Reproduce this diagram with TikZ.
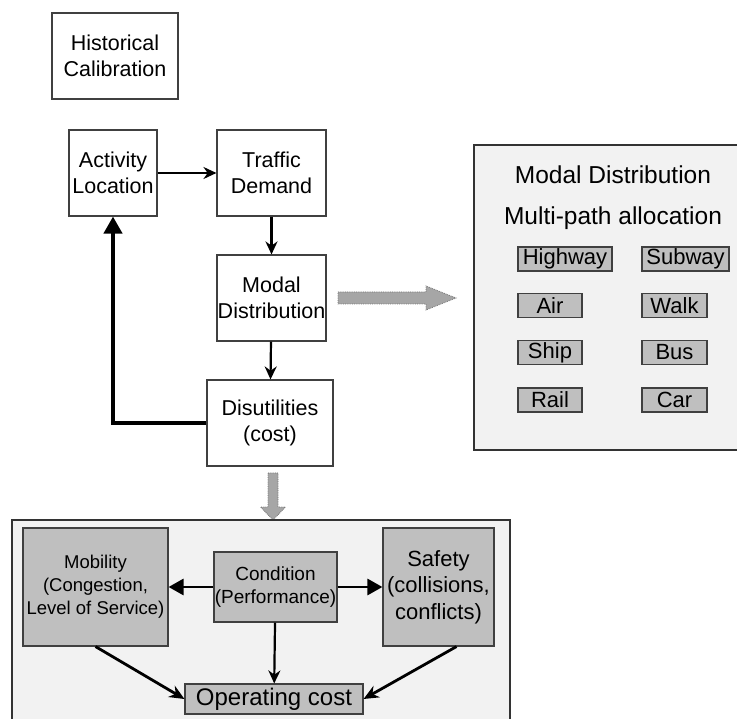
\documentclass[tikz,border=0pt]{standalone}
\usepackage{fontspec}
\setmainfont{Liberation Sans}
\usetikzlibrary{
  arrows.meta,
  calc,
  positioning,
}

\begin{document}
\begin{tikzpicture}[x=1pt,y=-1pt,
  font=\fontsize{21.5}{25.5}\selectfont,
  box/.style={draw=black!75,line width=1.1pt,fill=white,align=center,inner sep=0pt},
  gbox/.style={box,fill=black!25},
  mode/.style={gbox,minimum height=24,font=\fontsize{22}{24}\selectfont},
  panel/.style={fill=black!5},
  frame/.style={draw=black!80,line width=1.2pt},
  flow/.style={-{Stealth[length=13pt,width=12pt]},line width=2.2pt},
  fb/.style={-{Triangle[length=17pt,width=18pt]},line width=4pt},
  side/.style={-{Triangle[length=15pt,width=16pt]},line width=2.8pt},
  imp/.style={-{Stealth[length=15pt,width=13pt]},line width=2.8pt},
  fat/.style={draw=black!55,densely dotted,fill=black!35,line width=0.8pt}]
  \useasboundingbox (0,0) rectangle (737,719);
  %% model chain
  \node[box,minimum width=126,minimum height=86](hist) at (115,56) {Historical\\Calibration};
  \node[box,minimum width=88,minimum height=86](act) at (113,173) {Activity\\Location};
  \node[box,minimum width=109,minimum height=86](dem) at (271.5,173) {Traffic\\Demand};
  \node[box,minimum width=109,minimum height=86](modal) at (271.5,298) {Modal\\Distribution};
  \node[box,minimum width=126,minimum height=86](dis) at (270,423) {Disutilities\\(cost)};
  \draw[flow] (act) -- (dem);
  \draw[flow] (dem) -- (modal);
  \draw[flow] (modal) -- (dis);
  \draw[fb] (dis.west) -| (act.south);
  %% modal split panel
  \fill[panel] (474,145) rectangle (740,450);
  \draw[frame] (740,145) -- (474,145) -- (474,450) -- (740,450);
  \node(mdtitle) at (613,175) {\fontsize{24.5}{28}\selectfont Modal Distribution};
  \node(mptitle) at (613,218) {\fontsize{24.5}{28}\selectfont Multi-path allocation};
  \node[mode,minimum width=94](hwy) at (565,259) {Highway};
  \node[mode,minimum width=87](sub) at (685.5,259) {Subway};
  \node[mode,minimum width=64](air) at (550,305.5) {Air};
  \node[mode,minimum width=65](walk) at (674.5,305.5) {Walk};
  \node[mode,minimum width=64](ship) at (550,352.5) {Ship};
  \node[mode,minimum width=65](bus) at (674.5,352.5) {Bus};
  \node[mode,minimum width=64](rail) at (550,400) {Rail};
  \node[mode,minimum width=65](car) at (674.5,400) {Car};
  \draw[fat] (338,292) -- ++(88,0) -- ++(0,-6) -- (456,298) -- ++(-30,12)
    -- ++(0,-6) -- ++(-88,0) -- cycle;
  %% impacts panel
  \draw[fat] (268,473) -- (278,473) -- (278,507) -- (285.5,507) -- (273,520)
    -- (260.5,507) -- (268,507) -- cycle;
  \fill[panel] (12,520) rectangle (510,725);
  \draw[frame] (12,725) -- (12,520) -- (510,520) -- (510,725);
  \node[gbox,minimum width=145,minimum height=118,
    font=\fontsize{18.5}{23}\selectfont](mob) at (95.5,587)
    {Mobility\\(Congestion,\\Level of Service)};
  \node[gbox,minimum width=123,minimum height=70,
    font=\fontsize{19}{23}\selectfont](cond) at (275.5,587)
    {Condition\\(Performance)};
  \node[gbox,minimum width=111,minimum height=118,
    font=\fontsize{22}{26.5}\selectfont](saf) at (438.5,587)
    {Safety\\(collisions,\\conflicts)};
  \node[gbox,minimum width=178,minimum height=30,
    font=\fontsize{24}{28}\selectfont](op) at (274,699) {Operating cost};
  \draw[side] (cond) -- (mob);
  \draw[side] (cond) -- (saf);
  \draw[flow] (cond) -- (op);
  \draw[imp] (mob.south) -- (op.west);
  \draw[imp] ([xshift=18]saf.south) -- (op.east);
\end{tikzpicture}
\end{document}
